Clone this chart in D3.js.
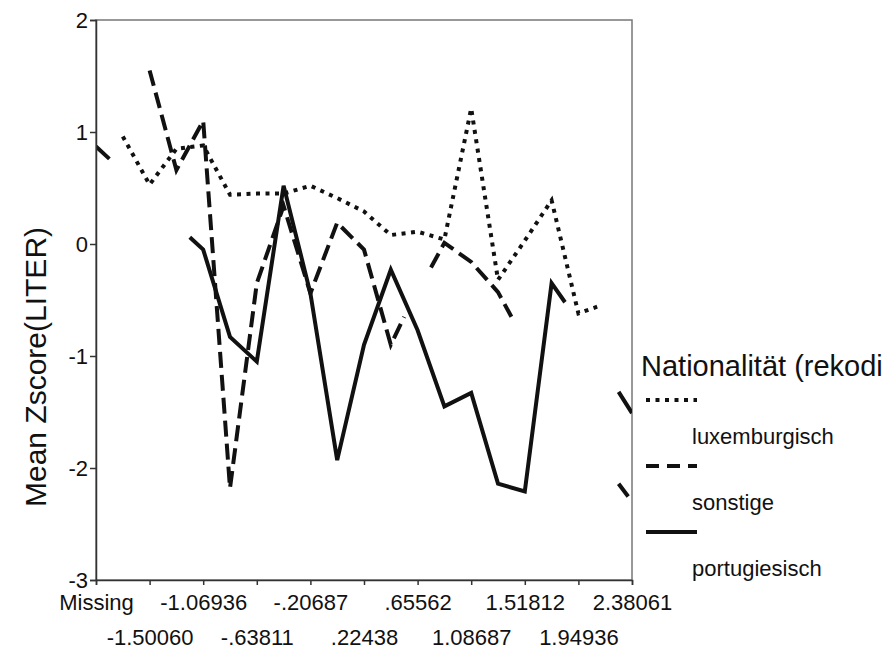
<!DOCTYPE html>
<html>
<head>
<meta charset="utf-8">
<script src="https://cdn.jsdelivr.net/npm/d3@7"></script>
<style>
  body { margin: 0; background: #fff; }
  text { font-family: "Liberation Sans", Arial, sans-serif; fill: #111; }
</style>
</head>
<body>
<div id="chart"></div>
<script>
// categories of the x axis (only every second one gets a label)
var categories = ["Missing", "-1.71622", "-1.50060", "-1.28498", "-1.06936", "-.85374",
  "-.63811", "-.42249", "-.20687", ".00876", ".22438", ".44000", ".65562", ".87125",
  "1.08687", "1.30250", "1.51812", "1.73374", "1.94936", "2.16499", "2.38061"]

var yTicks = [-3, -2, -1, 0, 1, 2]

// series: [category index, mean]; null breaks the line
var luxemburgisch = [[1, 0.96], [2, 0.53], [3, 0.85], [4, 0.88], [5, 0.44], [6, 0.45],
  [7, 0.45], [8, 0.52], [9, 0.41], [10, 0.29], [11, 0.08], [12, 0.11], [13, 0.04],
  [14, 1.21], [15, -0.32], [16, 0.03], [17, 0.39], [18, -0.62], [18.7, -0.56]]

var sonstige = [[2, 1.55], [3, 0.66], [4, 1.10], [5, -2.18], [6, -0.35], [7, 0.34],
  [8, -0.44], [9, 0.19], [10, -0.05], [11, -0.90], [11.5, -0.65], null,
  [12.5, -0.21], [13, 0.01], [14, -0.16], [15, -0.43], [15.5, -0.65], null,
  [19.5, -2.14], [20, -2.30]]

var portugiesisch = [[0, 0.87], [0.5, 0.76], null, [3.5, 0.06], [4, -0.05], [5, -0.83],
  [6, -1.05], [7, 0.52], [8, -0.44], [9, -1.93], [10, -0.90], [11, -0.23], [12, -0.77],
  [13, -1.45], [14, -1.33], [15, -2.14], [16, -2.21], [17, -0.35], [17.5, -0.52], null,
  [19.5, -1.32], [20, -1.51]]

var seriesNames = ["luxemburgisch", "sonstige", "portugiesisch"]
var seriesData = [luxemburgisch, sonstige, portugiesisch]
var dashes = ["4,5.5", "16,7", null]

var W = 890, H = 654
var margin = { top: 20, right: 258, bottom: 74, left: 96 },
  width = W - margin.left - margin.right,
  height = H - margin.top - margin.bottom

var svg = d3.select("#chart").append("svg")
  .attr("width", W).attr("height", H)

var g = svg.append("g")
  .attr("transform", "translate(" + margin.left + "," + margin.top + ")")

var x = d3.scaleLinear().domain([0, categories.length - 1]).range([0, width])
var y = d3.scaleLinear().domain([-3, 2]).range([height, 0])

// frame
g.append("rect")
  .attr("width", width).attr("height", height)
  .attr("fill", "none").attr("stroke", "#777").attr("stroke-width", 1.5)

// clip for the lines
svg.append("defs").append("clipPath").attr("id", "plotclip")
  .append("rect").attr("width", width).attr("height", height)

var line = d3.line()
  .defined(function (d) { return d !== null })
  .x(function (d) { return x(d[0]) })
  .y(function (d) { return y(d[1]) })

g.append("g").attr("clip-path", "url(#plotclip)")
  .selectAll("path.series")
  .data(seriesData)
  .enter().append("path")
  .attr("class", "series")
  .attr("d", line)
  .attr("fill", "none")
  .attr("stroke", "#111")
  .attr("stroke-width", 4)
  .attr("stroke-linejoin", "miter")
  .attr("stroke-dasharray", function (d, i) { return dashes[i] })

// x axis
var xAxis = g.append("g")
  .attr("transform", "translate(0," + height + ")")
  .call(d3.axisBottom(x)
    .tickValues(d3.range(0, categories.length, 2))
    .tickFormat(function (i) { return categories[i] })
    .tickSize(5))
xAxis.select(".domain").attr("stroke", "#333").attr("stroke-width", 1.5)
xAxis.selectAll(".tick line").attr("stroke", "#333").attr("stroke-width", 1.5)
xAxis.selectAll(".tick text")
  .attr("dy", null)
  .attr("y", function (d, i) { return i % 2 ? 65 : 30 })
  .style("font-size", "22px")

// y axis
var yAxis = g.append("g")
  .call(d3.axisLeft(y).tickValues(yTicks)
    .tickFormat(function (d) { return String(d) })
    .tickSize(6).tickPadding(2))
yAxis.select(".domain").attr("stroke", "#333").attr("stroke-width", 1.5)
yAxis.selectAll(".tick line").attr("stroke", "#333").attr("stroke-width", 1.5)
yAxis.selectAll(".tick text").style("font-size", "22px")

// y title
svg.append("text")
  .attr("transform", "translate(46,367) rotate(-90)")
  .attr("text-anchor", "middle")
  .style("font-size", "30px")
  .text("Mean Zscore(LITER)")

// legend
var legend = svg.append("g").attr("transform", "translate(641,0)")
legend.append("text").attr("x", 0).attr("y", 376)
  .style("font-size", "29px").text("Nationalität (rekodi")

var legRows = legend.selectAll("g.leg").data(seriesNames).enter()
  .append("g").attr("class", "leg")
  .attr("transform", function (d, i) { return "translate(0," + (400 + i * 66) + ")" })

legRows.append("line")
  .attr("x1", 5).attr("x2", 56).attr("y1", 0).attr("y2", 0)
  .attr("stroke", "#111").attr("stroke-width", 4)
  .attr("stroke-dasharray", function (d, i) { return i === 1 ? "13,8" : dashes[i] })

legRows.append("text")
  .attr("x", 51).attr("y", 44)
  .style("font-size", "22px")
  .text(function (d) { return d })
</script>
</body>
</html>
